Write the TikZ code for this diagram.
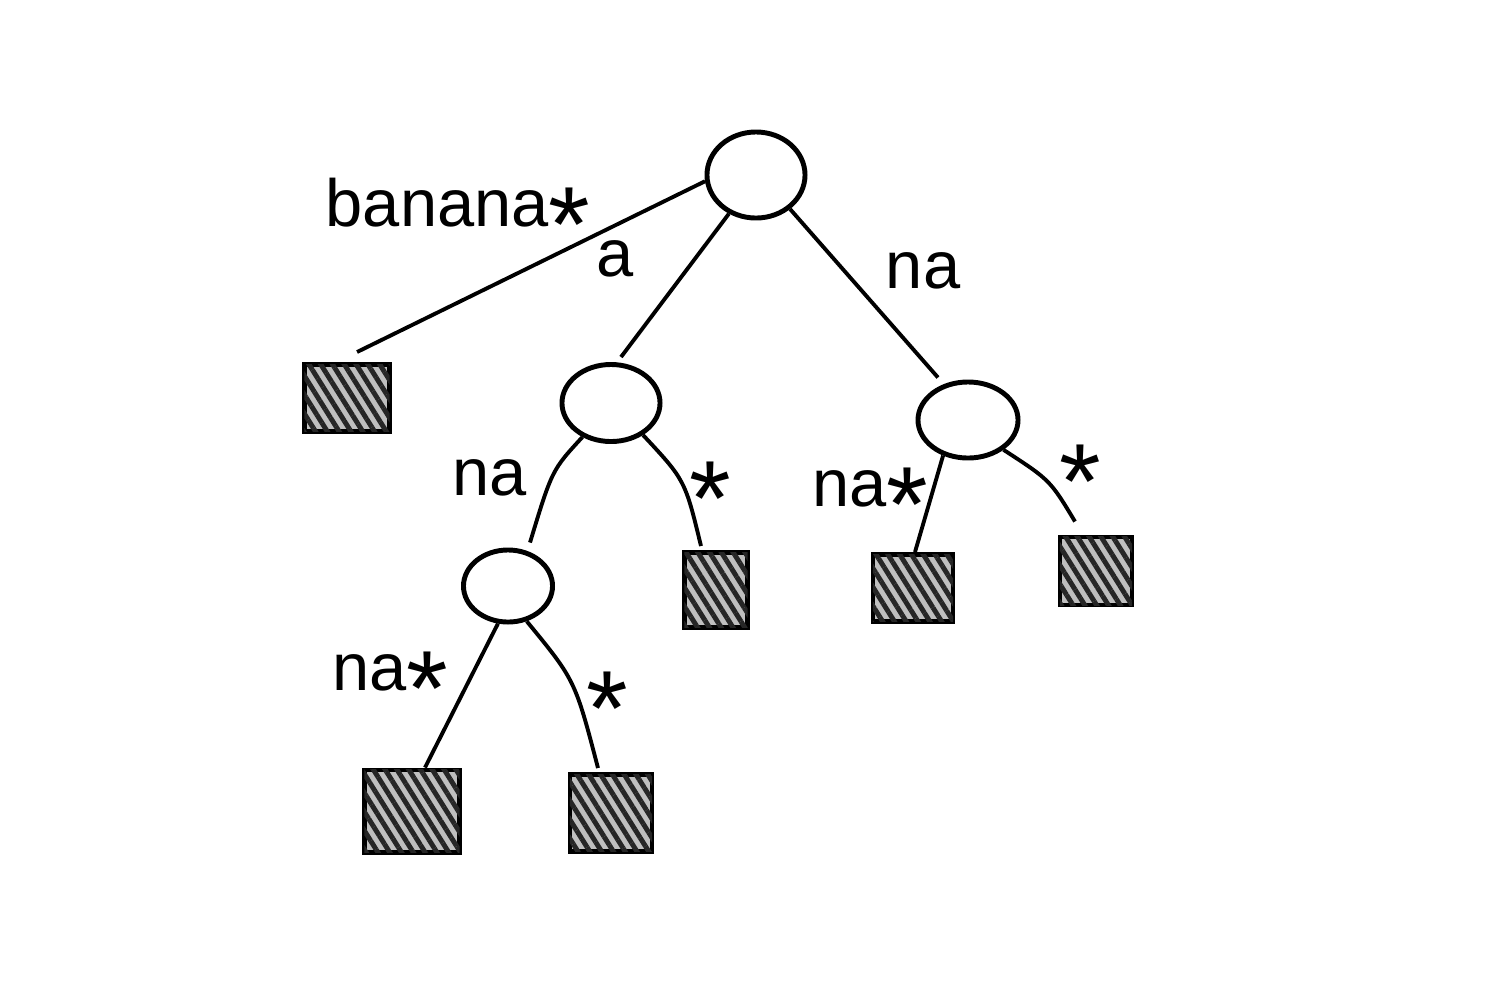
\documentclass[tikz,border=0pt]{standalone}
\usepackage{fontspec}
\setmainfont{Liberation Sans}
\usetikzlibrary{shapes.geometric,patterns.meta}
\newcommand\bigst{\raisebox{-1.0ex}{\scalebox{1.6}{*}}}
\begin{document}
\begin{tikzpicture}[x=0.01cm,y=-0.01cm,
  inode/.style={draw,ellipse,line width=1.4pt,fill=white,inner sep=0pt},
  leaf/.style={draw,rectangle,line width=1.4pt,fill=black!25,inner sep=0pt,
    postaction={pattern={Lines[angle=-58,distance=0.1cm,line width=1.4pt]},pattern color=black!85}},
  edge/.style={line width=1.1pt},
  lbl/.style={font=\fontsize{19}{22}\selectfont,inner sep=0pt,anchor=base}]
\useasboundingbox (0,0) rectangle (1494,984);
% internal nodes
\node[inode,minimum width=0.98cm,minimum height=0.86cm] (root) at (756,175) {};
\node[inode,minimum width=0.98cm,minimum height=0.77cm] (A) at (611,403) {};
\node[inode,minimum width=1.00cm,minimum height=0.76cm] (N) at (968,420) {};
\node[inode,minimum width=0.89cm,minimum height=0.72cm] (ANA) at (508,586) {};
% leaves
\node[leaf,minimum width=0.85cm,minimum height=0.67cm] (L1) at (347,398) {};
\node[leaf,minimum width=0.63cm,minimum height=0.75cm] (L2) at (716,590) {};
\node[leaf,minimum width=0.80cm,minimum height=0.67cm] (L3) at (913,588) {};
\node[leaf,minimum width=0.72cm,minimum height=0.68cm] (L4) at (1096,571) {};
\node[leaf,minimum width=0.95cm,minimum height=0.82cm] (L5) at (412,811) {};
\node[leaf,minimum width=0.82cm,minimum height=0.77cm] (L6) at (611,813) {};
% edges
\draw[edge] (root.187) -- ([xshift=0.55cm,yshift=0.1cm]L1.north west);
\draw[edge] (root.235) -- ([xshift=0.1cm,yshift=0.05cm]A.north);
\draw[edge] (root.-45) -- ([xshift=-0.3cm,yshift=0.02cm]N.north);
\draw[edge] (A.230) .. controls (552,470) .. ([xshift=0.22cm,yshift=0.05cm]ANA.north);
\draw[edge] (A.-45) .. controls (685,480) .. ([xshift=-0.15cm,yshift=0.04cm]L2.north);
\draw[edge] (N.-125) -- ([xshift=0.02cm]L3.north);
\draw[edge] (N.-40) .. controls (1050,480) .. ([xshift=-0.21cm,yshift=0.13cm]L4.north);
\draw[edge] (ANA.-105) -- ([xshift=0.13cm]L5.north);
\draw[edge] (ANA.-62) .. controls (575,680) .. ([xshift=-0.13cm,yshift=0.04cm]L6.north);
% labels (baseline positions)
\node[lbl] (t1) at (458,226) {banana\bigst};
\node[lbl] (t2) at (615,276) {a};
\node[lbl] (t3) at (923,288) {na};
\node[lbl] (t4) at (490,495) {na};
\node[lbl] (t5) at (710,500) {\bigst};
\node[lbl] (t6) at (870,506) {na\bigst};
\node[lbl] (t7) at (1080,483) {\bigst};
\node[lbl] (t8) at (390,690) {na\bigst};
\node[lbl] (t9) at (607,710) {\bigst};
\end{tikzpicture}
\end{document}
